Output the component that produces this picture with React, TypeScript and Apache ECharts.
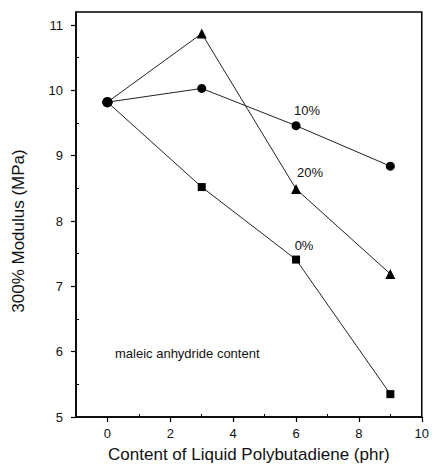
import React, { useEffect, useRef } from "react";
import * as echarts from "echarts";

const xValues = [0, 3, 6, 9];
const mod0 = [9.82, 8.52, 7.41, 5.35];
const mod10 = [9.82, 10.03, 9.46, 8.84];
const mod20 = [9.82, 10.87, 8.49, 7.19];
const seriesNames = ["0%", "10%", "20%"];
const xMajor = [0, 2, 4, 6, 8, 10];
const xMinor = [1, 3, 5, 7, 9];
const yMajor = [5, 6, 7, 8, 9, 10, 11];
const yMinor = [5.5, 6.5, 7.5, 8.5, 9.5, 10.5];
const yTitle = "300% Modulus (MPa)";
const xTitle = "Content of Liquid Polybutadiene (phr)";
const note = "maleic anhydride content";

const FONT = "Liberation Sans, Arial, Helvetica, sans-serif";

function build(vals: number[], labelText: string, offset: number[]) {
  return vals.map((v, i) => {
    const item: any = { value: [xValues[i], v] };
    if (i === 0) {
      item.symbol = "circle";
      item.symbolSize = 10;
    }
    if (i === 2) {
      item.label = {
        show: true,
        formatter: labelText,
        position: "top",
        offset,
        color: "#111",
        fontSize: 13,
        fontFamily: FONT,
      };
    }
    return item;
  });
}

export default function App() {
  const ref = useRef<HTMLDivElement>(null);
  useEffect(() => {
    const chart = echarts.init(ref.current!, null, { renderer: "svg" });
    const lineStyle = { color: "#222", width: 1 };
    const itemStyle = { color: "#000" };
    chart.setOption({
      animation: false,
      backgroundColor: "#fff",
      grid: {
        left: 76,
        right: 7,
        top: 12,
        bottom: 47,
        show: true,
        borderColor: "#000",
        borderWidth: 1.5,
      },
      xAxis: [
        {
          type: "value",
          min: -1,
          max: 10,
          splitLine: { show: false },
          axisLine: { show: true, onZero: false, lineStyle: { color: "#000", width: 1.5 } },
          axisTick: { show: true, customValues: xMajor, length: 5, lineStyle: { color: "#000", width: 1.2 } },
          axisLabel: { customValues: xMajor, margin: 10, color: "#111", fontSize: 13, fontFamily: FONT },
          name: xTitle,
          nameLocation: "middle",
          nameGap: 29,
          nameTextStyle: { color: "#111", fontSize: 17, fontFamily: FONT },
        },
        {
          type: "value",
          position: "bottom",
          min: -1,
          max: 10,
          splitLine: { show: false },
          axisLine: { show: false, onZero: false },
          axisTick: { show: true, inside: true, customValues: xMinor, length: 3, lineStyle: { color: "#000", width: 1 } },
          axisLabel: { show: false },
        },
      ],
      yAxis: [
        {
          type: "value",
          min: 5,
          max: 11.2,
          splitLine: { show: false },
          axisLine: { show: true, onZero: false, lineStyle: { color: "#000", width: 1.5 } },
          axisTick: { show: true, customValues: yMajor, length: 5, lineStyle: { color: "#000", width: 1.2 } },
          axisLabel: { customValues: yMajor, margin: 13, color: "#111", fontSize: 13, fontFamily: FONT },
        },
        {
          type: "value",
          position: "left",
          min: 5,
          max: 11.2,
          splitLine: { show: false },
          axisLine: { show: false, onZero: false },
          axisTick: { show: true, inside: true, customValues: yMinor, length: 3, lineStyle: { color: "#000", width: 1 } },
          axisLabel: { show: false },
        },
      ],
      graphic: [
        {
          type: "text",
          x: 18,
          y: 231,
          rotation: Math.PI / 2,
          style: {
            text: yTitle,
            fill: "#111",
            fontSize: 17,
            fontFamily: FONT,
            align: "center",
            verticalAlign: "middle",
          },
        },
        {
          type: "text",
          x: 115,
          y: 353,
          style: {
            text: note,
            fill: "#111",
            fontSize: 13,
            fontFamily: FONT,
            verticalAlign: "middle",
          },
        },
      ],
      series: [
        {
          name: seriesNames[0],
          type: "line",
          data: build(mod0, "0%", [8, 1]),
          symbol: "rect",
          symbolSize: 8,
          lineStyle,
          itemStyle,
          z: 2,
        },
        {
          name: seriesNames[2],
          type: "line",
          data: build(mod20, "20%", [14, 0]),
          symbol: "triangle",
          symbolSize: 10,
          lineStyle,
          itemStyle,
          z: 3,
        },
        {
          name: seriesNames[1],
          type: "line",
          data: build(mod10, "10%", [11, 1]),
          symbol: "circle",
          symbolSize: 9,
          lineStyle,
          itemStyle,
          z: 4,
        },
      ],
    });
    return () => chart.dispose();
  }, []);
  return <div ref={ref} style={{ width: 432, height: 468, position: "absolute", left: 0, top: 0 }} />;
}
